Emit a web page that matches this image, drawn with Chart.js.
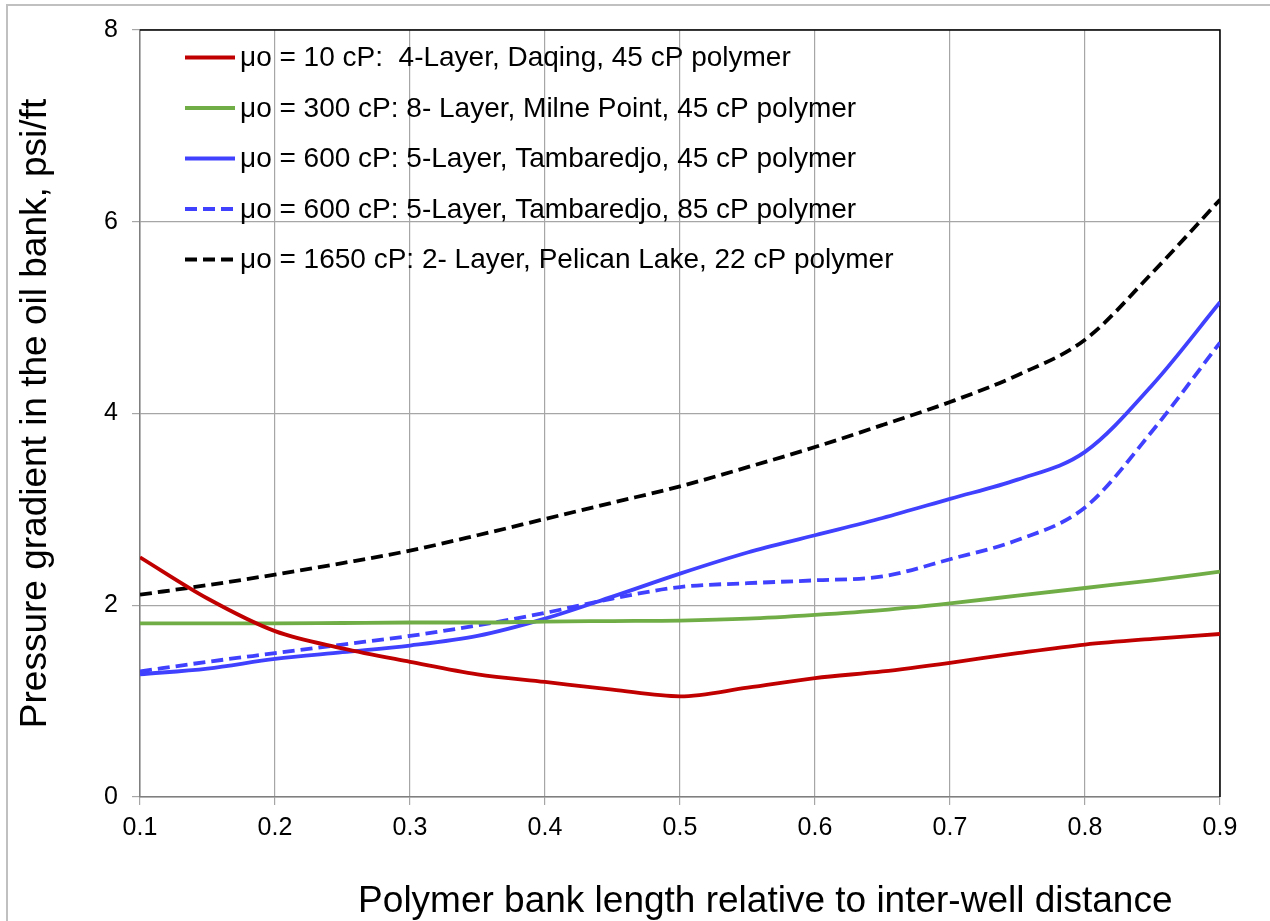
<!DOCTYPE html>
<html>
<head>
<meta charset="utf-8">
<script src="https://cdn.jsdelivr.net/npm/chart.js@4.4.0/dist/chart.umd.min.js"></script>
<style>
  html, body { margin: 0; padding: 0; background: #ffffff; }
</style>
</head>
<body>
<canvas id="chartCanvas" width="1270" height="921"></canvas>
<script>
// Polymer bank length (fraction of inter-well distance)
const bankLength = [0.1, 0.15, 0.2, 0.25, 0.3, 0.35, 0.4, 0.45, 0.5, 0.55, 0.6, 0.65, 0.7, 0.75, 0.8, 0.85, 0.9];

// Pressure gradient in the oil bank, psi/ft
const daqing10 = [2.50, 2.07, 1.73, 1.55, 1.41, 1.28, 1.20, 1.12, 1.05, 1.14, 1.24, 1.31, 1.40, 1.50, 1.59, 1.65, 1.70];
const milne300 = [1.81, 1.81, 1.81, 1.815, 1.82, 1.82, 1.83, 1.835, 1.84, 1.86, 1.90, 1.95, 2.02, 2.10, 2.18, 2.26, 2.35];
const tamb45 = [1.28, 1.34, 1.44, 1.51, 1.58, 1.68, 1.86, 2.09, 2.33, 2.55, 2.73, 2.91, 3.11, 3.31, 3.60, 4.30, 5.16];
const tamb85 = [1.31, 1.41, 1.50, 1.59, 1.68, 1.79, 1.92, 2.07, 2.19, 2.23, 2.26, 2.30, 2.48, 2.68, 3.02, 3.82, 4.74];
const pelican1650 = [2.11, 2.21, 2.32, 2.44, 2.57, 2.73, 2.90, 3.07, 3.24, 3.44, 3.65, 3.88, 4.12, 4.40, 4.77, 5.47, 6.23];

const seriesLabels = [
  'μo = 10 cP:  4-Layer, Daqing, 45 cP polymer',
  'μo = 300 cP: 8- Layer, Milne Point, 45 cP polymer',
  'μo = 600 cP: 5-Layer, Tambaredjo, 45 cP polymer',
  'μo = 600 cP: 5-Layer, Tambaredjo, 85 cP polymer',
  'μo = 1650 cP: 2- Layer, Pelican Lake, 22 cP polymer'
];

const xTicks = [0.1, 0.2, 0.3, 0.4, 0.5, 0.6, 0.7, 0.8, 0.9];
const yTicks = [0, 2, 4, 6, 8];

const xTitle = 'Polymer bank length relative to inter-well distance';
const yTitle = 'Pressure gradient in the oil bank, psi/ft';

const FONT = "'Liberation Sans', Arial, sans-serif";

function toPoints(ys) {
  return ys.map((y, i) => ({ x: bankLength[i], y: y }));
}

function makeSeries(label, ys, color, dash) {
  return {
    label: label,
    data: toPoints(ys),
    borderColor: color,
    backgroundColor: color,
    borderWidth: 3.8,
    borderDash: dash,
    pointRadius: 0,
    fill: false,
    cubicInterpolationMode: 'monotone'
  };
}

// light outer frame, black top/right plot edge, x axis title
const framePlugin = {
  id: 'frame',
  beforeDraw(chart) {
    const c = chart.ctx;
    c.save();
    c.fillStyle = '#ffffff';
    c.fillRect(0, 0, chart.width, chart.height);
    c.strokeStyle = '#c0c0c0';
    c.lineWidth = 2;
    c.strokeRect(7, 5, chart.width + 20, chart.height + 20);
    c.restore();
  },
  beforeDatasetsDraw(chart) {
    const a = chart.chartArea;
    const c = chart.ctx;
    c.save();
    c.strokeStyle = '#000000';
    c.lineWidth = 1.5;
    c.beginPath();
    c.moveTo(a.left, a.top);
    c.lineTo(a.right, a.top);
    c.lineTo(a.right, a.bottom);
    c.stroke();
    // x title sits right of the plot centre in the original
    c.font = '37px ' + FONT;
    c.fillStyle = '#000000';
    c.textAlign = 'center';
    c.textBaseline = 'alphabetic';
    c.fillText(xTitle, a.left + (a.right - a.left) * 0.579, 912);
    c.restore();
  }
};

// legend drawn inside the plot, top-left
const innerLegend = {
  id: 'innerLegend',
  afterDatasetsDraw(chart) {
    const a = chart.chartArea;
    const c = chart.ctx;
    c.save();
    c.font = '28px ' + FONT;
    c.textBaseline = 'middle';
    c.fillStyle = '#000000';
    chart.data.datasets.forEach((ds, i) => {
      const y = a.top + 27.5 + i * 50.5;
      const x0 = a.left + 45;
      c.strokeStyle = ds.borderColor;
      c.lineWidth = ds.borderWidth;
      c.setLineDash(ds.borderDash || []);
      c.beginPath();
      c.moveTo(x0, y);
      c.lineTo(x0 + 50, y);
      c.stroke();
      c.setLineDash([]);
      c.fillText(ds.label, x0 + 55, y + 1);
    });
    c.restore();
  }
};

const ctx = document.getElementById('chartCanvas').getContext('2d');

const myChart = new Chart(ctx, {
  type: 'line',
  data: {
    datasets: [
      makeSeries(seriesLabels[0], daqing10, '#c00000', []),
      makeSeries(seriesLabels[1], milne300, '#70ad47', []),
      makeSeries(seriesLabels[2], tamb45, '#4040ff', []),
      makeSeries(seriesLabels[3], tamb85, '#4040ff', [12, 6]),
      makeSeries(seriesLabels[4], pelican1650, '#000000', [12, 6])
    ]
  },
  plugins: [framePlugin, innerLegend],
  options: {
    responsive: false,
    animation: false,
    layout: {
      padding: { left: 0, top: 30, right: 50, bottom: 0 }
    },
    plugins: {
      legend: { display: false },
      tooltip: { enabled: false }
    },
    scales: {
      x: {
        type: 'linear',
        min: 0.1,
        max: 0.9,
        afterBuildTicks(axis) {
          axis.ticks = xTicks.map(v => ({ value: v }));
        },
        afterFit(axis) {
          axis.height = 124;
        },
        ticks: {
          color: '#000000',
          font: { family: FONT, size: 25 },
          padding: 8,
          maxRotation: 0,
          callback: v => Number(v).toFixed(1)
        },
        grid: {
          color: '#a6a6a6',
          lineWidth: 1.2,
          tickLength: 8,
          tickColor: '#a6a6a6'
        },
        border: { color: '#7f7f7f', width: 1.5 }
      },
      y: {
        min: 0,
        max: 8,
        afterBuildTicks(axis) {
          axis.ticks = yTicks.map(v => ({ value: v }));
        },
        afterFit(axis) {
          axis.width = 140;
        },
        ticks: {
          color: '#000000',
          font: { family: FONT, size: 25 },
          padding: 14
        },
        grid: {
          color: '#a6a6a6',
          lineWidth: 1.2,
          tickLength: 8,
          tickColor: '#a6a6a6'
        },
        border: { color: '#7f7f7f', width: 1.5 },
        title: {
          display: true,
          text: yTitle,
          color: '#000000',
          font: { family: FONT, size: 37 },
          padding: { top: 14, bottom: 0 }
        }
      }
    }
  }
});
</script>
</body>
</html>
